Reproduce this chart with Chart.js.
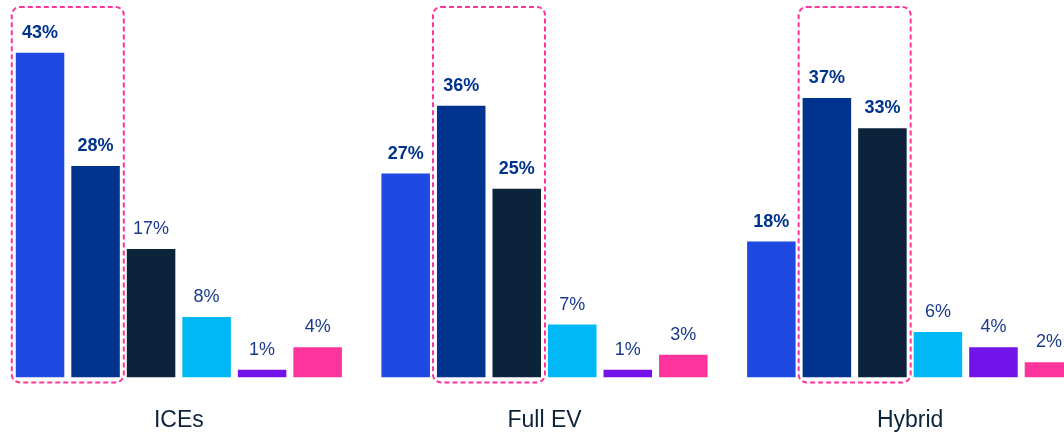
<!DOCTYPE html>
<html>
<head>
<meta charset="utf-8">
<script src="https://cdn.jsdelivr.net/npm/chart.js@4/dist/chart.umd.min.js"></script>
<style>
  html, body { margin: 0; padding: 0; background: #fff; overflow: hidden; }
  #wrap { position: relative; width: 1064px; height: 435px; overflow: hidden; }
  #chart { position: absolute; left: -4px; top: 0; }
</style>
</head>
<body>
<div id="wrap"><canvas id="chart" width="1097" height="463"></canvas></div>
<script>
// categories and series values (%)
const categories = ["ICEs", "Full EV", "Hybrid"];
const seriesValues = [
  [43, 27, 18],
  [28, 36, 37],
  [17, 25, 33],
  [8, 7, 6],
  [1, 1, 4],
  [4, 3, 2]
];
const seriesColors = ["#1E49E2", "#00338D", "#0C233C", "#00B8F5", "#7213EA", "#FD349C"];
// which value labels are bold, per series
const boldLabels = [
  [true, true, true],
  [true, true, true],
  [false, true, true],
  [false, false, false],
  [false, false, false],
  [false, false, false]
];
// dashed highlight: first and last series index per category
const highlightFrom = [0, 1, 1];
const highlightTo = [1, 2, 2];

const FONT = "'Liberation Sans', Arial, sans-serif";

// ===============================
//  VALUE LABELS
// ===============================
const valueLabels = {
  id: "valueLabels",
  afterDatasetsDraw(chart) {
    const ctx = chart.ctx;
    ctx.save();
    ctx.textAlign = "center";
    ctx.textBaseline = "alphabetic";
    chart.data.datasets.forEach((ds, di) => {
      chart.getDatasetMeta(di).data.forEach((bar, i) => {
        const bold = boldLabels[di][i];
        ctx.font = (bold ? "bold " : "") + "18px " + FONT;
        ctx.fillStyle = bold ? "#00338D" : "#1A3A8C";
        ctx.fillText(ds.data[i] + "%", bar.x, bar.y - 15);
      });
    });
    ctx.restore();
  }
};

// ===============================
//  DASHED HIGHLIGHT BOXES
// ===============================
const highlightBoxes = {
  id: "highlightBoxes",
  afterDatasetsDraw(chart) {
    const ctx = chart.ctx;
    const base = chart.scales.y.getPixelForValue(0);
    ctx.save();
    ctx.strokeStyle = "#FD349C";
    ctx.lineWidth = 2;
    ctx.setLineDash([5, 3]);
    categories.forEach((c, i) => {
      const a = chart.getDatasetMeta(highlightFrom[i]).data[i];
      const b = chart.getDatasetMeta(highlightTo[i]).data[i];
      const left = a.x - a.width / 2 - 4;
      const right = b.x + b.width / 2 + 4;
      const top = 7;
      const bottom = base + 5;
      ctx.beginPath();
      ctx.roundRect(left, top, right - left, bottom - top, 8);
      ctx.stroke();
    });
    ctx.restore();
  }
};

new Chart(document.getElementById("chart"), {
  type: "bar",
  data: {
    labels: categories,
    datasets: seriesValues.map((vals, i) => ({
      data: vals,
      backgroundColor: seriesColors[i],
      categoryPercentage: 0.911,
      barPercentage: 0.874
    }))
  },
  options: {
    responsive: false,
    devicePixelRatio: 1,
    animation: false,
    layout: { padding: 0 },
    plugins: {
      legend: { display: false },
      tooltip: { enabled: false }
    },
    scales: {
      x: {
        grid: { display: false, drawTicks: false },
        border: { display: false },
        ticks: {
          font: { size: 23, family: FONT },
          color: "#0C233C",
          padding: 29
        }
      },
      y: {
        display: false,
        min: 0,
        max: 50
      }
    }
  },
  plugins: [highlightBoxes, valueLabels]
});
</script>
</body>
</html>
